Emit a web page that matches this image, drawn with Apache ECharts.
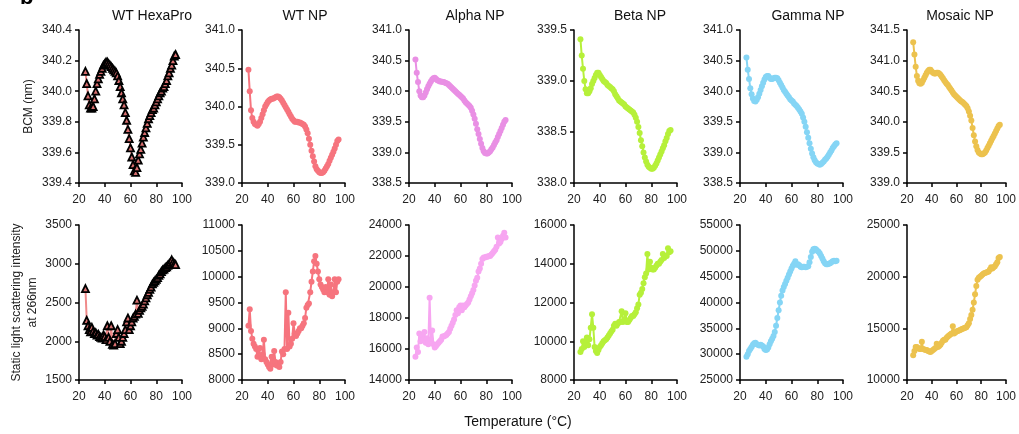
<!DOCTYPE html>
<html>
<head>
<meta charset="utf-8">
<script src="https://cdn.jsdelivr.net/npm/echarts@6/dist/echarts.min.js"></script>
<style>
html,body{margin:0;padding:0;background:#fff;}
#chart{width:1019px;height:434px;}
</style>
</head>
<body>
<div id="chart"></div>
<script>
// ---- data ----
const temps = [25,26,27,28,29,30,31,32,33,34,35,36,37,38,39,40,41,42,43,44,45,46,47,48,49,50,51,52,53,54,55,56,57,58,59,60,61,62,63,64,65,66,67,68,69,70,71,72,73,74,75,76,77,78,79,80,81,82,83,84,85,86,87,88,89,90,91,92,93,94,95];

const panelTitles = ['WT HexaPro','WT NP','Alpha NP','Beta NP','Gamma NP','Mosaic NP'];
const xTicks = [20,40,60,80,100];

const hexaBCM = [340.13,340.05,339.97,339.91,339.89,339.89,339.90,339.95,340.00,340.05,
340.08,340.11,340.13,340.15,340.17,340.18,340.19,340.19,340.18,340.17,
340.16,340.15,340.14,340.13,340.12,340.10,340.07,340.03,339.99,339.95,
339.91,339.86,339.81,339.75,339.69,339.63,339.57,339.52,339.48,339.47,
339.50,339.55,339.59,339.62,339.66,339.70,339.73,339.76,339.79,339.82,
339.84,339.86,339.88,339.89,339.91,339.93,339.95,339.97,339.99,340.00,
340.02,340.03,340.05,340.07,340.10,340.12,340.15,340.17,340.20,340.23,
340.24];
const wtBCM = [340.48,340.20,339.95,339.85,339.80,339.77,339.76,339.75,339.77,339.80,
339.85,339.90,339.95,340.00,340.03,340.06,340.08,340.09,340.10,340.10,
340.11,340.12,340.13,340.13,340.12,340.10,340.08,340.05,340.02,339.99,
339.96,339.93,339.90,339.87,339.84,339.82,339.80,339.80,339.80,339.79,
339.79,339.78,339.77,339.76,339.74,339.70,339.65,339.58,339.50,339.42,
339.35,339.28,339.22,339.18,339.16,339.14,339.13,339.13,339.14,339.16,
339.19,339.22,339.25,339.29,339.33,339.37,339.41,339.45,339.50,339.55,
339.57];
const alphaBCM = [340.52,340.30,340.15,340.00,339.93,339.90,339.90,339.93,339.98,340.03,
340.08,340.12,340.16,340.19,340.21,340.22,340.20,340.18,340.17,340.16,
340.16,340.15,340.15,340.14,340.13,340.12,340.10,340.08,340.06,340.04,
340.02,340.00,339.98,339.96,339.94,339.92,339.90,339.88,339.85,339.82,
339.80,339.78,339.76,339.73,339.68,339.62,339.55,339.47,339.38,339.30,
339.22,339.14,339.07,339.02,338.99,338.98,338.98,339.00,339.02,339.05,
339.08,339.12,339.16,339.20,339.25,339.30,339.35,339.40,339.45,339.50,
339.53];
const betaBCM = [339.41,339.25,339.12,339.00,338.92,338.88,338.88,338.90,338.93,338.97,
339.00,339.03,339.06,339.08,339.08,339.06,339.04,339.02,339.00,338.99,
338.98,338.96,338.95,338.94,338.93,338.92,338.90,338.87,338.85,338.83,
338.81,338.80,338.79,338.78,338.77,338.75,338.74,338.73,338.72,338.71,
338.70,338.69,338.67,338.64,338.60,338.55,338.49,338.42,338.36,338.30,
338.25,338.21,338.18,338.16,338.15,338.14,338.14,338.15,338.17,338.19,
338.22,338.25,338.28,338.31,338.34,338.37,338.41,338.44,338.48,338.51,
338.52];
const gammaBCM = [340.55,340.35,340.20,340.05,339.95,339.88,339.84,339.83,339.86,339.90,
339.96,340.02,340.08,340.14,340.19,340.23,340.25,340.25,340.22,340.20,
340.20,340.21,340.22,340.22,340.21,340.18,340.14,340.10,340.06,340.02,
339.99,339.96,339.93,339.90,339.87,339.85,339.83,339.80,339.78,339.76,
339.73,339.70,339.67,339.63,339.57,339.50,339.42,339.33,339.24,339.15,
339.06,338.98,338.92,338.87,338.84,338.82,338.81,338.80,338.81,338.83,
338.85,338.88,338.90,338.93,338.96,339.00,339.03,339.07,339.10,339.13,
339.15];
const mosaicBCM = [341.30,341.10,340.90,340.75,340.67,340.63,340.62,340.64,340.68,340.72,
340.76,340.80,340.83,340.85,340.85,340.82,340.80,340.79,340.79,340.80,
340.80,340.79,340.77,340.74,340.71,340.68,340.65,340.62,340.60,340.57,
340.54,340.51,340.48,340.45,340.43,340.41,340.39,340.37,340.35,340.33,
340.32,340.30,340.28,340.26,340.22,340.17,340.10,340.02,339.90,339.78,
339.68,339.60,339.54,339.50,339.48,339.47,339.47,339.48,339.50,339.53,
339.57,339.61,339.65,339.69,339.73,339.77,339.81,339.85,339.89,339.93,
339.95];

const hexaSLS = [2680,2270,2200,2150,2120,2180,2130,2100,2110,2080,
2090,2060,2050,2040,2080,2060,2020,2200,2050,2000,
2200,1960,1950,1970,2100,2150,2050,1970,2000,2050,
2100,2150,2250,2300,2150,2200,2250,2300,2320,2350,
2530,2360,2400,2430,2450,2480,2520,2560,2600,2630,
2670,2700,2740,2760,2780,2800,2820,2850,2870,2900,
2920,2930,2950,2960,2980,3000,3020,3050,3020,3000,
2990];
const wtSLS = [9050,9370,8950,8800,8700,8650,8600,8450,8600,8620,
8400,8500,8780,8400,8350,8300,8250,8220,8450,8300,
8560,8350,8280,8300,8250,8350,8550,8500,8600,9700,
8600,9300,8650,8700,8800,9100,8900,8850,8900,8950,
9000,9000,9050,9100,9200,9400,9450,9480,9700,9900,
10100,10300,10400,10250,10100,9950,9850,9800,9750,9700,
9800,9700,9950,9650,9850,9620,9700,9950,9700,9900,
9950];
const alphaSLS = [15500,16100,15800,17000,16500,16900,16600,17100,16400,16700,
16300,19300,16600,17200,16300,16100,16200,16300,16400,16500,
16600,16800,16800,16850,16900,17000,17100,17300,17500,17700,
17900,18200,18500,18300,18700,18800,18500,18800,18700,18800,
18900,19000,19200,19400,19600,19800,20100,20400,20600,21000,
21200,21500,21800,21900,21900,21950,21950,22000,22000,22100,
22200,22300,22400,22600,23200,22800,22900,23100,23300,23500,
23200];
const betaSLS = [9450,9600,10000,9700,9900,10200,9800,10100,10700,11400,
10700,9700,9500,9400,9550,9700,9800,9900,10000,10050,
10100,10200,10300,10400,10500,10600,10800,10900,10800,10900,
11000,11000,11550,11000,11100,11450,11000,11000,11100,11200,
11300,11300,11400,11500,11700,11900,12400,12500,12700,13000,
13300,13500,14500,13700,14100,13800,13700,13700,13800,13900,
14000,14000,14100,14200,14500,14300,14400,14400,14800,14600,
14650];
const gammaSLS = [29500,30000,30600,31000,31400,31800,32100,32200,31900,31800,
31700,31800,31700,31500,31000,30800,30900,31300,31900,32500,
33000,33500,34300,35500,37000,38500,40000,41300,42300,43000,
43600,44200,44800,45400,46000,46600,47100,47500,48000,47300,
47400,47200,46900,46800,46900,46900,46800,46900,47000,47800,
48800,49800,50300,50400,50300,50000,49800,49500,49000,48500,
48000,47600,47400,47400,47500,47600,47800,48000,48100,48000,
48100];
const mosaicSLS = [12400,12800,13200,13200,13100,13000,13000,13700,13000,12950,
12900,12900,12800,12750,12700,12800,12900,13000,13100,13500,
13200,13300,13400,13600,13800,13900,13900,14100,14200,14300,
14400,14500,15200,14500,14600,14700,14750,14800,14850,14900,
14950,15000,15050,15100,15300,15500,15900,16300,16800,17500,
18300,19100,19700,19900,20000,20100,20200,20300,20350,20400,
20450,20500,20700,20900,20800,20900,21000,21200,21400,21800,
21900];

// y-axis ranges [min, max, interval]
const bcmRanges = [[339.4,340.4,0.2],[339.0,341.0,0.5],[338.5,341.0,0.5],[338.0,339.5,0.5],[338.5,341.0,0.5],[339.0,341.5,0.5]];
const slsRanges = [[1500,3500,500],[8000,11000,500],[14000,24000,2000],[8000,16000,2000],[25000,55000,5000],[10000,25000,5000]];

const bcmSeries = [hexaBCM, wtBCM, alphaBCM, betaBCM, gammaBCM, mosaicBCM];
const slsSeries = [hexaSLS, wtSLS, alphaSLS, betaSLS, gammaSLS, mosaicSLS];

// ---- styling/layout ----
const FONT = 'Liberation Sans, Arial, Helvetica, sans-serif';
const bcmColors = ['#f08a8a','#f6747e','#e98fe4','#b6f03a','#85d5f5','#ecc24e'];
const slsColors = ['#f08a8a','#f6747e','#f7a6f1','#b6f03a','#85d5f5','#ecc24e'];
const lefts = [79, 242, 409, 574, 740, 907];
const titleX = [152, 305, 475, 640, 808, 960];
const W = 103;
const rows = [{top:30, h:153}, {top:225, h:155}];

const grid = [], xAxis = [], yAxis = [], series = [];
function addPanel(row, col, values, range, color, isHexa) {
  const idx = grid.length;
  grid.push({left: lefts[col], top: rows[row].top, width: W, height: rows[row].h, containLabel: false});
  xAxis.push({
    type:'value', gridIndex: idx, min: 20, max: 100, interval: 20,
    axisLine:{show:true, onZero:false, lineStyle:{color:'#000', width:1.5}},
    axisTick:{show:true, length:4, lineStyle:{color:'#000', width:1.5}},
    axisLabel:{fontSize:12, color:'#222', fontFamily:FONT, margin:11, showMinLabel:true, showMaxLabel:true},
    splitLine:{show:false}
  });
  const ya = {
    type:'value', gridIndex: idx, min: range[0], max: range[1], interval: range[2],
    axisLine:{show:true, onZero:false, lineStyle:{color:'#000', width:1.5}},
    axisTick:{show:true, length:4, lineStyle:{color:'#000', width:1.5}},
    axisLabel:{fontSize:12, color:'#222', fontFamily:FONT, margin:7,
      formatter: row === 0 ? (v => v.toFixed(1)) : (v => String(Math.round(v)))},
    splitLine:{show:false}
  };
  if (col === 0) {
    ya.nameLocation = 'middle';
    ya.nameTextStyle = {fontSize:12, color:'#222', fontFamily:FONT, lineHeight:16};
    if (row === 0) { ya.name = 'BCM (nm)'; ya.nameGap = 42; }
    else { ya.name = 'Static light scattering intensity\nat 266nm'; ya.nameGap = 38; }
  }
  yAxis.push(ya);
  const data = temps.map((t, i) => [t, values[i]]);
  series.push({
    type:'line', xAxisIndex: idx, yAxisIndex: idx, data: data,
    symbol: isHexa ? 'triangle' : 'circle',
    symbolSize: isHexa ? 7 : 6,
    showSymbol: true,
    lineStyle:{color: color, width: 2},
    itemStyle: isHexa ? {color:'#d86e6e', borderColor:'#000', borderWidth:1.8} : {color: color},
    emphasis:{disabled:true},
    animation:false,
    clip:false
  });
}
for (let c = 0; c < 6; c++) addPanel(0, c, bcmSeries[c], bcmRanges[c], bcmColors[c], c === 0);
for (let c = 0; c < 6; c++) addPanel(1, c, slsSeries[c], slsRanges[c], slsColors[c], c === 0);

const graphic = [];
panelTitles.forEach((t, i) => {
  graphic.push({type:'text', x: titleX[i], y: 16,
    style:{text: t, font: '14px ' + FONT, fill:'#111', align:'center', verticalAlign:'middle', textAlign:'center', textVerticalAlign:'middle'}});
});
graphic.push({type:'text', x: 518, y: 422,
  style:{text:'Temperature (°C)', font:'14px ' + FONT, fill:'#111', align:'center', verticalAlign:'middle', textAlign:'center', textVerticalAlign:'middle'}});
graphic.push({type:'text', x: 20, y: -13,
  style:{text:'b', font:'bold 22px ' + FONT, fill:'#000', align:'left', verticalAlign:'top', textAlign:'left', textVerticalAlign:'top'}});

const chart = echarts.init(document.getElementById('chart'), null, {renderer:'canvas'});
chart.setOption({
  animation:false,
  backgroundColor:'#fff',
  grid, xAxis, yAxis, series, graphic
});
</script>
</body>
</html>
